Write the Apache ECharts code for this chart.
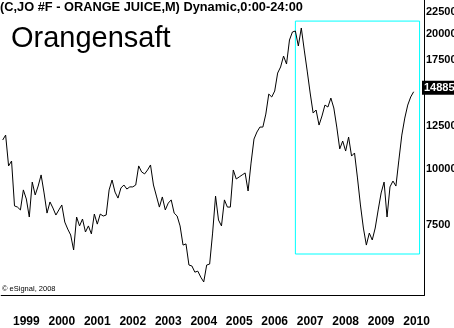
<!DOCTYPE html>
<html>
<head>
<meta charset="utf-8">
<script src="https://cdn.jsdelivr.net/npm/echarts@6/dist/echarts.min.js"></script>
<style>
    html, body { margin: 0; padding: 0; background: #fff; }
    #chart { width: 454px; height: 328px; }
</style>
</head>
<body>
<div id="chart"></div>
<script>
    // monthly closes, May 1998 .. Dec 2009 (index 0 = 1998-05)
    const startYear = 1998
    const startMonth = 5
    const monthCount = 143
    const prices = [
        11610, 11910, 10160, 10420, 8270, 8220, 8100, 8980, 8570, 7810,
        9350, 8750, 9160, 9700, 8840, 7970, 8440, 8180, 7890, 8100,
        8310, 7610, 7340, 7120, 6590, 7810, 7460, 7730, 7230, 7460,
        7160, 7930, 7530, 7930, 7850, 7890, 8980, 9450, 8880, 8610,
        9070, 9210, 9020, 9120, 9120, 9210, 10160, 9850, 9750, 9950,
        10210, 9210, 8700, 8220, 8660, 8100, 8390, 8530, 7970, 7850,
        7460, 6760, 6800, 6100, 6070, 5880, 5910, 5730, 5590, 6100,
        6130, 7190, 8700, 7690, 7460, 8530, 8220, 8220, 9950, 9500,
        9600, 9700, 9800, 8930, 10310, 11670, 12100, 12410, 12410, 13270,
        14710, 14490, 14940, 16390, 16910, 17890, 17170, 19430, 20250, 20350,
        18840, 20670, 18450, 16560, 14790, 13340, 13550, 12540, 13140, 13900,
        13760, 14410, 13690, 12410, 11090, 11550, 10970, 11790, 10690, 10860,
        9550, 8310, 7380, 6760, 7190, 6940, 7380, 8100, 8840, 9350,
        7810, 9120, 9400, 9160, 10470, 11910, 13000, 13900, 14490, 14885
    ]
    const yTicks = [7500, 10000, 12500, 17500, 20000, 22500]
    const lastPrice = 14885
    // highlighted box: from Aug 2006 to Feb 2010, price range
    const boxFrom = ['2006-08', 6456]
    const boxTo = ['2010-02', 21418]

    const months = []
    for (let i = 0; i < monthCount; i++) {
        const m = startMonth - 1 + i
        const y = startYear + Math.floor(m / 12)
        const mm = (m % 12) + 1
        months.push(y + '-' + (mm < 10 ? '0' + mm : mm))
    }

    const font = '"Liberation Sans", Arial, sans-serif'
    const myChart = echarts.init(document.getElementById('chart'))
    const option = {
        animation: false,
        backgroundColor: '#fff',
        title: [
            {
                text: '(C,JO #F - ORANGE JUICE,M) Dynamic,0:00-24:00',
                left: 0,
                top: 1,
                padding: 0,
                textStyle: { fontFamily: font, fontSize: 12.8, fontWeight: 'bold', color: '#000' }
            },
            {
                text: 'Orangensaft',
                left: 11,
                top: 24,
                padding: 0,
                textStyle: { fontFamily: font, fontSize: 29, fontWeight: 'normal', color: '#000' }
            },
            {
                text: '© eSignal, 2008',
                left: 2,
                top: 285,
                padding: 0,
                textStyle: { fontFamily: font, fontSize: 7.5, fontWeight: 'normal', color: '#000' }
            }
        ],
        grid: {
            left: 1.2,
            right: 30,
            top: 0,
            bottom: 32.5,
            containLabel: false,
            outerBoundsMode: 'none'
        },
        xAxis: {
            type: 'category',
            data: months,
            boundaryGap: true,
            axisLine: { show: true, lineStyle: { color: '#000', width: 1 } },
            axisTick: { show: false },
            splitLine: { show: false },
            axisLabel: {
                interval: (index, value) => value.slice(5) === '01',
                formatter: value => value.slice(0, 4),
                margin: 20,
                hideOverlap: false,
                fontFamily: font,
                fontSize: 12,
                fontWeight: 'bold',
                color: '#000'
            }
        },
        yAxis: {
            type: 'log',
            logBase: 10,
            position: 'right',
            min: 5214,
            max: 23874,
            axisLine: { show: true, lineStyle: { color: '#000', width: 1 } },
            axisTick: { show: false },
            splitLine: { show: false },
            minorTick: { show: false },
            axisLabel: {
                customValues: yTicks,
                formatter: v => String(Math.round(v)),
                margin: 2,
                hideOverlap: false,
                fontFamily: font,
                fontSize: 11,
                fontWeight: 'bold',
                color: '#000'
            }
        },
        series: [
            {
                type: 'line',
                data: prices,
                showSymbol: false,
                symbol: 'none',
                lineStyle: { color: '#000', width: 1 },
                markArea: {
                    silent: true,
                    itemStyle: { color: 'rgba(0,0,0,0)', borderColor: '#00ffff', borderWidth: 1 },
                    data: [[
                        { xAxis: boxFrom[0], yAxis: boxFrom[1] },
                        { xAxis: boxTo[0], yAxis: boxTo[1] }
                    ]]
                },
                markLine: {
                    silent: true,
                    symbol: 'none',
                    lineStyle: { color: 'rgba(0,0,0,0)', width: 0 },
                    label: {
                        show: true,
                        position: 'end',
                        distance: -2,
                        offset: [0, -4],
                        formatter: String(lastPrice),
                        fontFamily: font,
                        fontSize: 11,
                        fontWeight: 'bold',
                        color: '#fff',
                        opacity: 1,
                        backgroundColor: '#000',
                        padding: [2, 4, 1, 2]
                    },
                    data: [{ yAxis: lastPrice }]
                }
            }
        ]
    }
    myChart.setOption(option)
</script>
</body>
</html>
